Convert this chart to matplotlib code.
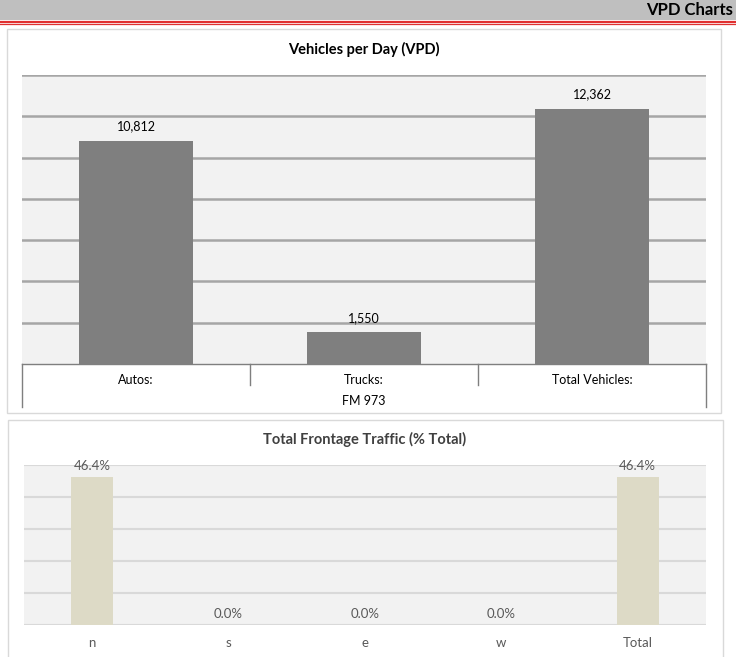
import matplotlib.pyplot as plt
import matplotlib.transforms as mtransforms
from matplotlib.patches import Rectangle
from matplotlib.lines import Line2D

plt.rcParams['font.family'] = ['Lato', 'DejaVu Sans']

W, H = 736, 657

# data
vpd_cats = ['Autos:', 'Trucks:', 'Total Vehicles:']
vpd_vals = [10812, 1550, 12362]
vpd_group = 'FM 973'

dir_cats = ['n', 's', 'e', 'w', 'Total']
dir_vals = [46.4, 0.0, 0.0, 0.0, 46.4]


def px_rect(x0, y0, x1, y1):
    # pixel box (top-left origin) -> figure fraction rect
    return [x0 / W, 1 - y1 / H, (x1 - x0) / W, (y1 - y0) / H]


fig = plt.figure(figsize=(W / 100, H / 100), dpi=100)
fig.patch.set_facecolor('white')

# header band
fig.add_artist(Rectangle((0, 1 - 20 / H), 1, 20 / H, transform=fig.transFigure,
                         facecolor='#bfbfbf', edgecolor='none', zorder=-2))
fig.add_artist(Line2D([0, 1], [1 - 21.5 / H] * 2, transform=fig.transFigure,
                      color='#e03030', lw=1.6, zorder=-2))
fig.add_artist(Line2D([0, 1], [1 - 24 / H] * 2, transform=fig.transFigure,
                      color='#e03030', lw=0.9, zorder=-2))
fig.text(733 / W, 1 - 10 / H, 'VPD Charts', ha='right', va='center',
         fontsize=12, fontweight='bold', color='black')

# panel boxes
for box in [(7, 29, 721, 413), (8, 420, 723, 660)]:
    r = px_rect(*box)
    fig.add_artist(Rectangle((r[0], r[1]), r[2], r[3], transform=fig.transFigure,
                             facecolor='white', edgecolor='#d9d9d9', lw=1, zorder=-2))

# ---- top chart: Vehicles per Day ----
ax = fig.add_axes(px_rect(22, 75, 706, 364))
ax.set_facecolor('#f2f2f2')
x = list(range(len(vpd_cats)))
ax.bar(x, vpd_vals, width=0.5, color='#7f7f7f', zorder=3)
ax.set_xlim(-0.5, len(vpd_cats) - 0.5)
ax.set_ylim(0, 14000)
ax.set_yticks(range(0, 14001, 2000))
for yv in range(2000, 14001, 2000):
    ax.axhline(yv, color='#a6a6a6', lw=1.8, zorder=1)
for xi, v in zip(x, vpd_vals):
    ax.text(xi, v + 400, f'{v:,}', ha='center', va='bottom', fontsize=9, color='black', zorder=4)
for s in ax.spines.values():
    s.set_visible(False)
ax.tick_params(left=False, labelleft=False, bottom=False)
ax.set_xticks(x)
ax.set_xticklabels(vpd_cats, fontsize=9)
ax.tick_params(axis='x', pad=4)
ax.set_title('Vehicles per Day (VPD)', fontsize=10.5, fontweight='bold', pad=15)

# category table lines below the axis
blend = mtransforms.blended_transform_factory(ax.transData, ax.transAxes)
ah = 289.0
ax.add_line(Line2D([-0.5, len(vpd_cats) - 0.5], [0, 0], transform=blend,
                   color='#7f7f7f', lw=1, clip_on=False))
for b in range(1, len(vpd_cats)):
    ax.add_line(Line2D([b - 0.5] * 2, [0, -21 / ah], transform=blend,
                       color='#7f7f7f', lw=1, clip_on=False))
for b in [-0.5, len(vpd_cats) - 0.5]:
    ax.add_line(Line2D([b] * 2, [0, -43 / ah], transform=blend,
                       color='#7f7f7f', lw=1, clip_on=False))
ax.text((len(vpd_cats) - 1) / 2, -37 / ah, vpd_group, transform=blend,
        ha='center', va='center', fontsize=9)

# ---- bottom chart: Total Frontage Traffic ----
ax2 = fig.add_axes(px_rect(24, 465, 706, 625))
ax2.set_facecolor('#f2f2f2')
x2 = list(range(len(dir_cats)))
ax2.bar(x2, dir_vals, width=0.31, color='#dddac6', zorder=3)
ax2.set_xlim(-0.5, len(dir_cats) - 0.5)
ax2.set_ylim(0, 50)
for yv in range(0, 51, 10):
    ax2.axhline(yv, color='#d9d9d9', lw=1.5, zorder=1)
for xi, v in zip(x2, dir_vals):
    ax2.text(xi, v + 1.5, f'{v:.1f}%', ha='center', va='bottom', fontsize=9.5, color='#595959', zorder=4)
for s in ax2.spines.values():
    s.set_visible(False)
ax2.tick_params(left=False, labelleft=False, bottom=False)
ax2.set_xticks(x2)
ax2.set_xticklabels(dir_cats, fontsize=9.5, color='#595959')
ax2.tick_params(axis='x', pad=5)
ax2.set_title('Total Frontage Traffic (% Total)', fontsize=10.5, fontweight='bold',
              color='#404040', pad=15)

fig.savefig('out.png', dpi=100, facecolor='white')
